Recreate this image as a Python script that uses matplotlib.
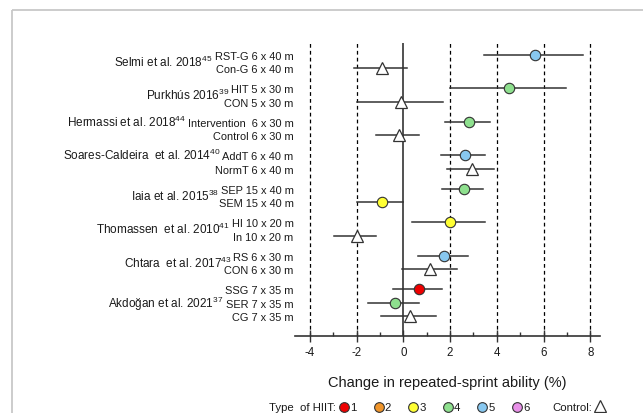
import numpy as np
import matplotlib
matplotlib.use('Agg')
import matplotlib.pyplot as plt
from matplotlib.patches import Rectangle

plt.rcParams['font.family'] = ['Liberation Sans', 'DejaVu Sans']
plt.rcParams['mathtext.fontset'] = 'custom'
plt.rcParams['mathtext.rm'] = 'Liberation Sans'
plt.rcParams['mathtext.it'] = 'Liberation Sans:italic'
plt.rcParams['axes.unicode_minus'] = False

# studies, their groups (top to bottom) and where the study label sits
studies = ['Selmi et al. 2018$^{45}$', 'Purkhús 2016$^{39}$', 'Hermassi et al. 2018$^{44}$',
           'Soares-Caldeira  et al. 2014$^{40}$', 'Iaia et al. 2015$^{38}$',
           'Thomassen  et al. 2010$^{41}$', 'Chtara  et al. 2017$^{43}$', 'Akdoğan et al. 2021$^{37}$']
groups = [['RST-G 6 x 40 m', 'Con-G 6 x 40 m'],
          ['HIT 5 x 30 m', 'CON 5 x 30 m'],
          ['Intervention  6 x 30 m', 'Control 6 x 30 m'],
          ['AddT 6 x 40 m', 'NormT 6 x 40 m'],
          ['SEP 15 x 40 m', 'SEM 15 x 40 m'],
          ['HI 10 x 20 m', 'In 10 x 20 m'],
          ['RS 6 x 30 m', 'CON 6 x 30 m'],
          ['SSG 7 x 35 m', 'SER 7 x 35 m', 'CG 7 x 35 m']]
study_row = [0.5, 0.5, 0, 0, 0.5, 0.5, 0.5, 1]   # relative to first row of group

# change (%) and confidence limits, same order as the groups
mean = [[5.63, -0.92], [4.52, -0.11], [2.79, -0.18], [2.64, 2.92],
        [2.59, -0.92], [2.0, -2.0], [1.75, 1.14], [0.67, -0.35, 0.29]]
low = [[3.46, -2.1], [2.0, -2.0], [1.8, -1.17], [1.61, 1.88],
       [1.67, -2.0], [0.38, -2.95], [0.64, -0.07], [-0.43, -1.52, -0.95]]
high = [[7.67, 0.14], [6.94, 1.68], [3.7, 0.67], [3.49, 3.88],
        [3.39, 0.0], [3.49, -1.18], [2.78, 2.28], [1.65, 0.67, 1.38]]
# HIIT type, 0 = control
hiit = [[5, 0], [4, 0], [4, 0], [5, 0], [4, 3], [3, 0], [5, 0], [1, 4, 0]]

hiit_names = ['1', '2', '3', '4', '5', '6']
hiit_colors = ['#ee0000', '#f0952a', '#ffff33', '#8ee08e', '#88c8f0', '#e890e8']

fig = plt.figure(figsize=(6.43, 4.14), dpi=100)
ax = fig.add_axes([0.4588, 0.1853, 0.4743, 0.7085])

txt = '#1a1a1a'
lc = '#333333'

for xv in [-4, -2, 2, 4, 6, 8]:
    ax.axvline(xv, color='black', lw=0.9, linestyle=(0, (3, 2.5)), zorder=1)
ax.axvline(0, color=lc, lw=1.2, zorder=1)

for gi, names in enumerate(groups):
    y0 = gi * 2.5
    first = None
    for ri, name in enumerate(names):
        y = y0 + ri
        ax.plot([low[gi][ri], high[gi][ri]], [y, y], color=lc, lw=1.1, zorder=2)
        if hiit[gi][ri] == 0:
            ax.plot(mean[gi][ri], y, marker='^', ms=9, mfc='white', mec=lc, mew=0.9, zorder=3)
        else:
            ax.plot(mean[gi][ri], y, marker='o', ms=7.5, mfc=hiit_colors[hiit[gi][ri] - 1],
                    mec=lc, mew=0.8, zorder=3)
        t = ax.annotate(name, xy=(0, y), xycoords=('axes fraction', 'data'),
                        xytext=(-1, -2.9), textcoords='offset points',
                        ha='right', va='baseline', fontsize=7.9, color=txt,
                        annotation_clip=False)
        if ri == 0:
            first = t
    ax.annotate(studies[gi], xy=(0, y0 + study_row[gi]), xycoords=(first, 'data'),
                xytext=(-1.5, -3.0), textcoords='offset points',
                ha='right', va='baseline', fontsize=8.5, color=txt,
                annotation_clip=False)

ax.set_xlim(-4.63, 8.41)
ax.set_ylim(21.0, -0.87)
for s in ['left', 'right', 'top']:
    ax.spines[s].set_visible(False)
ax.spines['bottom'].set_color(lc)
ax.spines['bottom'].set_linewidth(1.2)
ax.set_yticks([])
ax.set_xticks([-4, -2, 0, 2, 4, 6, 8])
ax.set_xticks([-3, -1, 1, 3, 5, 7], minor=True)
ax.tick_params(axis='x', which='major', direction='inout', length=8, width=1,
               color=lc, labelsize=8.3, labelcolor=txt, pad=3)
ax.tick_params(axis='x', which='minor', direction='in', length=3, width=1, color=lc)
ax.set_xlabel('Change in repeated-sprint ability (%)', fontsize=10.5, color=txt, labelpad=12)

# legend row along the bottom, laid out in pixels
lax = fig.add_axes([0, 0, 1, 1], zorder=-1)
lax.set_xlim(0, 643)
lax.set_ylim(414, 0)
lax.axis('off')
lax.add_patch(Rectangle((12, 11), 700, 500, fill=False, ec='#c8c8c8', lw=1.3))
ly = 408
lax.text(269, ly, 'Type  of HIIT:', fontsize=8.2, color=txt, va='center', ha='left')
for i, (nm, col) in enumerate(zip(hiit_names, hiit_colors)):
    x = 344 + i * 34.6
    lax.plot(x, ly, marker='o', ms=7, mfc=col, mec=lc, mew=0.8)
    lax.text(x + 6, ly, nm, fontsize=8.2, color=txt, va='center', ha='left')
lax.text(552, ly, 'Control:', fontsize=8.2, color=txt, va='center', ha='left')
lax.plot(600, ly - 1, marker='^', ms=9, mfc='white', mec=lc, mew=0.9)

fig.savefig('out.png', dpi=100)
